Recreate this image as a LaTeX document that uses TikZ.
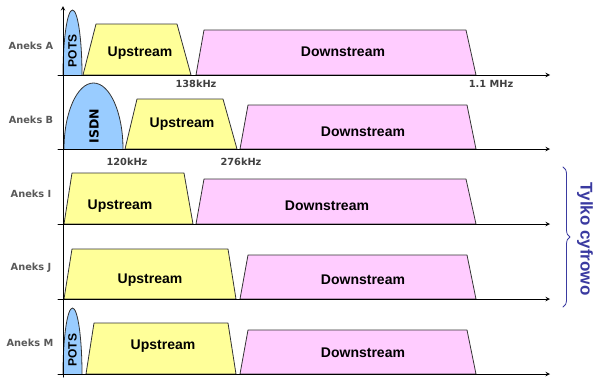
\documentclass[tikz,border=0pt]{standalone}
\usepackage{fontspec}
\setmainfont{Liberation Sans}
\newfontfamily\verd{DejaVu Sans}
\usetikzlibrary{decorations.pathreplacing}
\definecolor{voicec}{HTML}{99CCFF}
\definecolor{upc}{HTML}{FFFF99}
\definecolor{downc}{HTML}{FFCCFF}
\definecolor{edgec}{HTML}{333333}
\definecolor{bracec}{HTML}{3A3AA0}
\begin{document}
\begin{tikzpicture}[x=1pt,y=-1pt,>=stealth, line join=round, line cap=round,
	band/.style={draw=edgec, line width=.8pt},
	voice/.style={band, fill=voicec},
	upband/.style={band, fill=upc},
	downband/.style={band, fill=downc},
	bandtxt/.style={font=\fontsize{14}{14}\selectfont\bfseries},
	aneks/.style={font=\verd\fontsize{9.8}{10}\selectfont\bfseries, text=black!65},
	freq/.style={font=\verd\fontsize{9.8}{10}\selectfont\bfseries, text=black!75}]
	\useasboundingbox (0,0) rectangle (594,378);
	\def\xo{63} \def\xend{550} % osie
	\def\ya{75} \def\yb{149} \def\yi{224} \def\yj{299} \def\ym{374} % linie bazowe
	% Aneks A
	\draw[voice] (\xo,\ya) arc[start angle=180, end angle=0, x radius=9.5pt, y radius=65pt];
	\draw[upband] (83,\ya)--(96,24)--(177,24)--(191,\ya)--cycle;
	\draw[downband] (196,\ya)--(204,30)--(466,30)--(476,\ya)--cycle;
	% Aneks B
	\draw[voice] (64,\yb) arc[start angle=180, end angle=0, x radius=29.5pt, y radius=66pt];
	\draw[upband] (125,\yb)--(137,99)--(223,99)--(237,\yb)--cycle;
	\draw[downband] (240,\yb)--(248,105)--(467,105)--(476,\yb)--cycle;
	% Aneks I
	\draw[upband] (64,\yi)--(72,173)--(184,173)--(193,\yi)--cycle;
	\draw[downband] (196,\yi)--(204,179)--(466,179)--(476,\yi)--cycle;
	% Aneks J
	\draw[upband] (64,\yj)--(72,249)--(228,249)--(236,\yj)--cycle;
	\draw[downband] (240,\yj)--(248,255)--(467,255)--(476,\yj)--cycle;
	% Aneks M
	\draw[voice] (\xo,\ym) arc[start angle=180, end angle=0, x radius=9.5pt, y radius=66pt];
	\draw[upband] (86,\ym)--(94,323)--(228,323)--(236,\ym)--cycle;
	\draw[downband] (240,\ym)--(248,330)--(467,330)--(476,\ym)--cycle;
	% osie
	\draw[->, line width=1pt] (\xo,377)--(\xo,6);
	\foreach \yy in {\ya,\yb,\yi,\yj,\ym}
		\draw[->, line width=1pt] (58,\yy)--(\xend,\yy);
	% napisy
	\node[aneks] (lA) at (31,46) {Aneks A};
	\node[aneks] (lB) at (31,120) {Aneks B};
	\node[aneks] (lI) at (31,194) {Aneks I};
	\node[aneks] (lJ) at (31,268) {Aneks J};
	\node[aneks] (lM) at (30,343) {Aneks M};
	\node[freq] (f138) at (196,84) {138kHz};
	\node[freq] (f11) at (491,84) {1.1 MHz};
	\node[freq] (f120) at (127,162) {120kHz};
	\node[freq] (f276) at (241,162) {276kHz};
	\node[bandtxt, rotate=90, font=\fontsize{12}{12}\selectfont\bfseries] (potsA) at (72.5,51) {POTS};
	\node[bandtxt, rotate=90, font=\verd\fontsize{12.5}{12}\selectfont\bfseries] (isdn) at (94,126) {ISDN};
	\node[bandtxt, rotate=90, font=\fontsize{12}{12}\selectfont\bfseries] (potsM) at (72.5,350) {POTS};
	\node[bandtxt] (upA) at (140,53) {Upstream};
	\node[bandtxt] (dnA) at (343,52) {Downstream};
	\node[bandtxt] (upB) at (182,124) {Upstream};
	\node[bandtxt] (dnB) at (363,132) {Downstream};
	\node[bandtxt] (upI) at (120,206) {Upstream};
	\node[bandtxt] (dnI) at (327,206) {Downstream};
	\node[bandtxt] (upJ) at (150,280) {Upstream};
	\node[bandtxt] (dnJ) at (363,280) {Downstream};
	\node[bandtxt] (upM) at (163,346) {Upstream};
	\node[bandtxt] (dnM) at (363,353) {Downstream};
	% klamra
	\draw[bracec, line width=.8pt, decorate, decoration={brace, amplitude=7pt}] (563,167)--(563,307);
	\node[rotate=-90, text=bracec, font=\fontsize{17}{17}\selectfont\bfseries] (tylko) at (585,239) {Tylko cyfrowo};
\end{tikzpicture}
\end{document}
